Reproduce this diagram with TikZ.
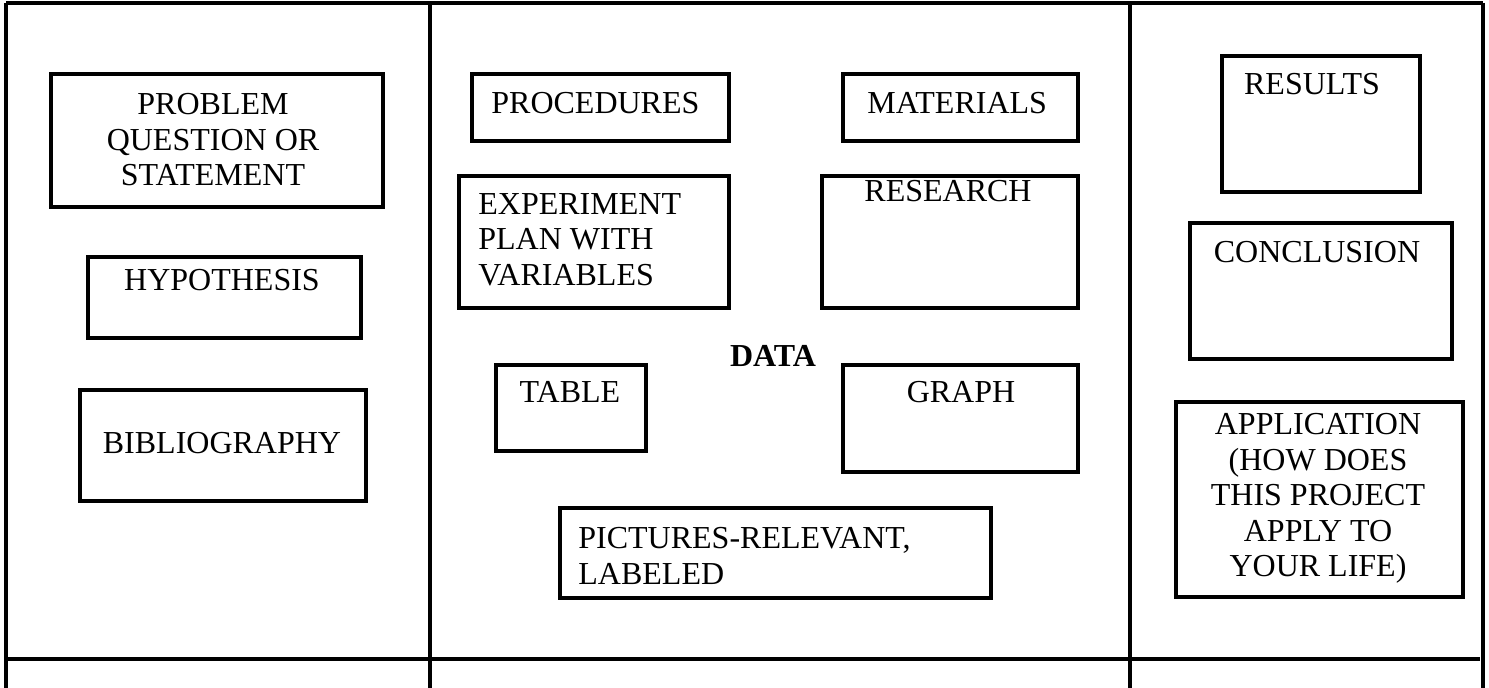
\documentclass[tikz,border=0pt]{standalone}
\usepackage{fontspec}
\setmainfont{Liberation Serif}
\usetikzlibrary{fit}
\begin{document}
\begin{tikzpicture}[x=0.5pt,y=-0.5pt,
  frame/.style={line width=2pt},
  box/.style={draw, line width=1.6pt, inner sep=0pt, fit={#1}},
  txt/.style={inner sep=0pt, font=\fontsize{16pt}{17.75pt}\selectfont},
  ctxt/.style={txt, anchor=north, align=center},
  ltxt/.style={txt, anchor=north west, align=left}]
\useasboundingbox (0,0) rectangle (1489,688);
% frame
\draw[frame] (6,3) -- (1483,3);
\draw[frame] (6,3) -- (6,688);
\draw[frame] (430,3) -- (430,688);
\draw[frame] (1130,3) -- (1130,688);
\draw[frame] (1483,3) -- (1483,688);
\draw[frame] (6,659) -- (1480,659);
% left column
\node[box={(51,74) (383,207)}] (prob) {};
\node[ctxt] (probT) at (213,93) {PROBLEM\\QUESTION OR\\STATEMENT};
\node[box={(88,257) (361,338)}] (hyp) {};
\node[ctxt] (hypT) at (222,269) {HYPOTHESIS};
\node[box={(80,390) (366,501)}] (bib) {};
\node[ctxt] (bibT) at (222,432) {BIBLIOGRAPHY};
% middle column
\node[box={(472,74) (729,141)}] (proc) {};
\node[ltxt] (procT) at (491,92) {PROCEDURES};
\node[box={(843,74) (1078,141)}] (mat) {};
\node[ltxt] (matT) at (867,92) {MATERIALS};
\node[box={(459,176) (729,308)}] (exp) {};
\node[ltxt] (expT) at (478,193) {EXPERIMENT\\PLAN WITH\\VARIABLES};
\node[box={(822,176) (1078,308)}] (res) {};
\node[ctxt] (resT) at (948,180) {RESEARCH};
\node[ctxt, font=\fontsize{16pt}{17.75pt}\selectfont\bfseries] (data) at (773,345) {DATA};
\node[box={(496,365) (646,451)}] (tab) {};
\node[ctxt] (tabT) at (570,381) {TABLE};
\node[box={(843,365) (1078,472)}] (graph) {};
\node[ctxt] (graphT) at (961,381) {GRAPH};
\node[box={(560,508) (991,598)}] (pic) {};
\node[ltxt] (picT) at (578,527) {PICTURES-RELEVANT,\\LABELED};
% right column
\node[box={(1222,56) (1420,192)}] (resu) {};
\node[ctxt] (resuT) at (1312,73) {RESULTS};
\node[box={(1190,223) (1452,359)}] (conc) {};
\node[ctxt] (concT) at (1317,241) {CONCLUSION};
\node[box={(1176,402) (1463,597)}] (app) {};
\node[ctxt] (appT) at (1318,413) {APPLICATION\\(HOW DOES\\THIS PROJECT\\APPLY TO\\YOUR LIFE)};
\end{tikzpicture}
\end{document}
